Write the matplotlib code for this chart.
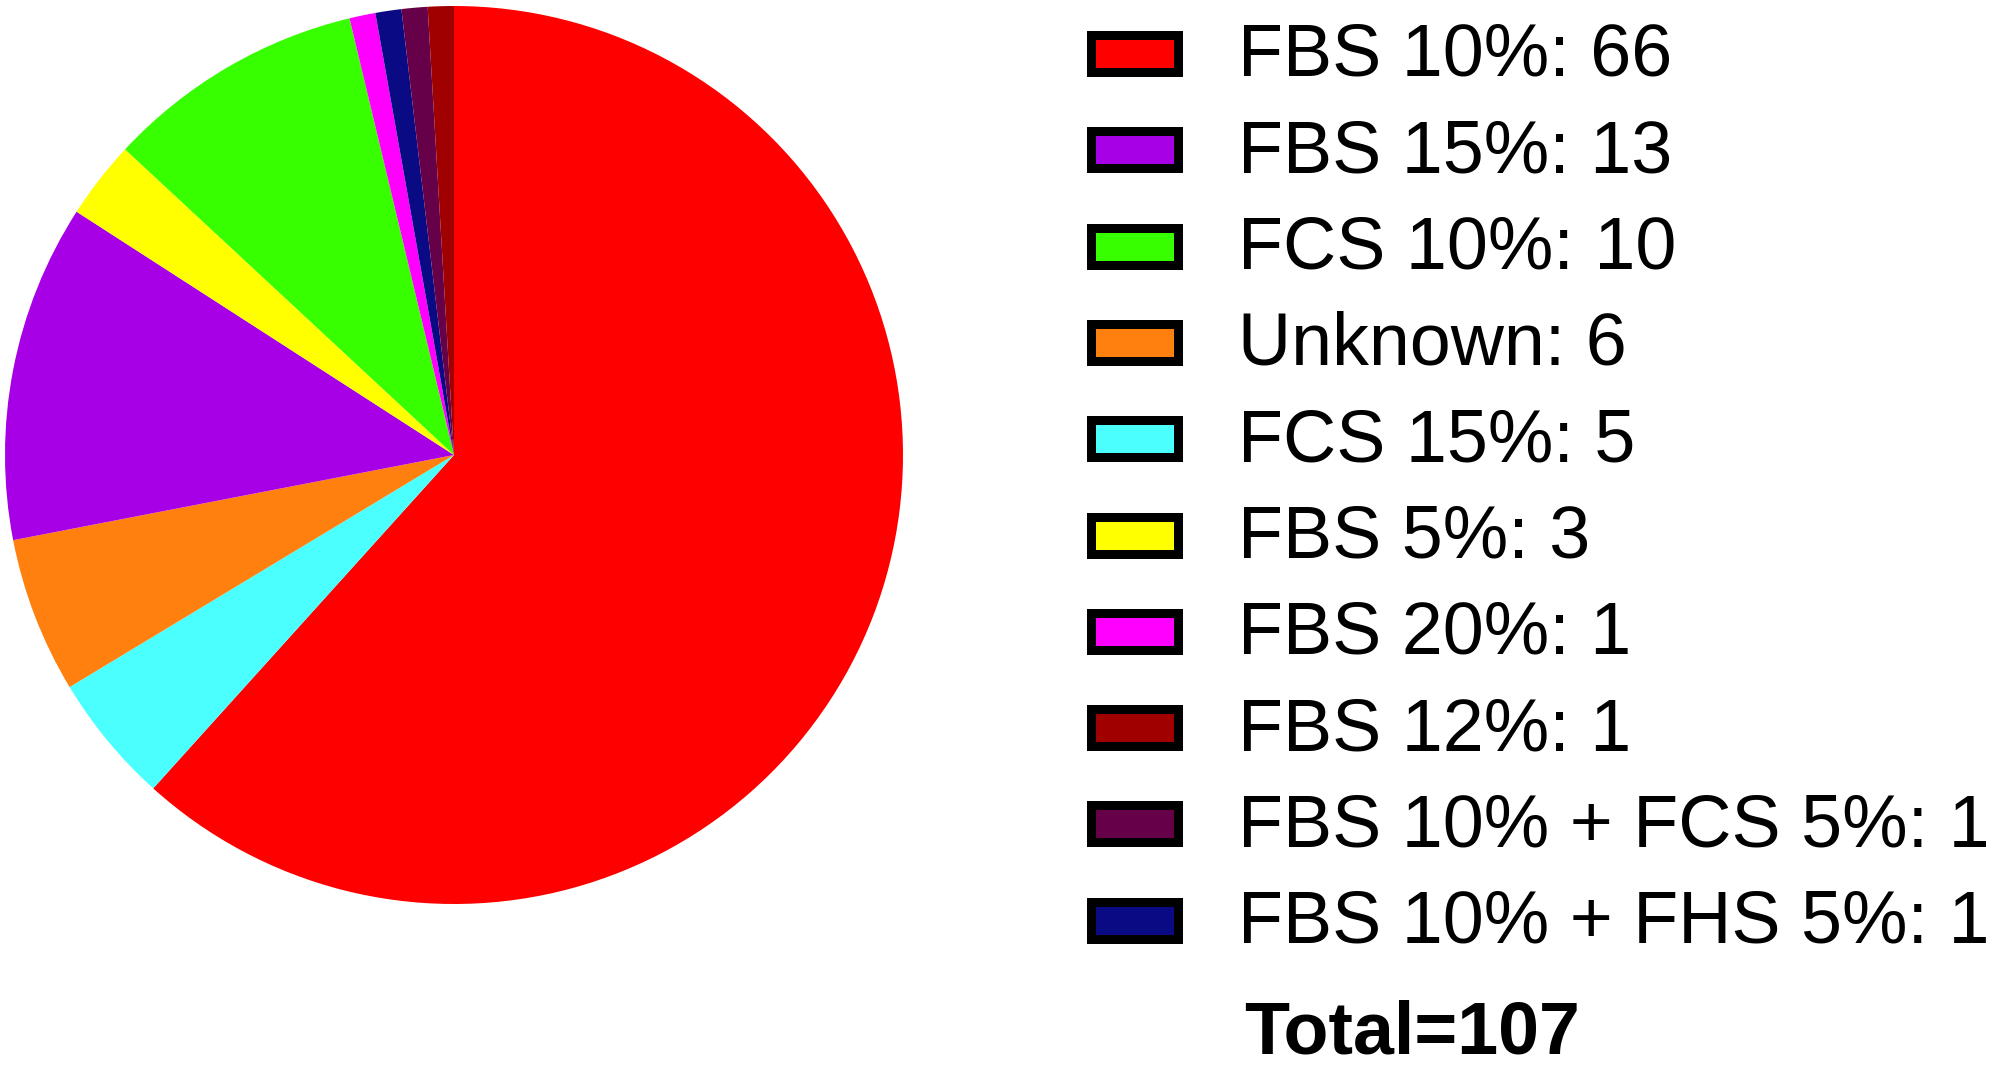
import matplotlib
matplotlib.use("Agg")
import matplotlib.pyplot as plt
from matplotlib.patches import Rectangle

plt.rcParams['font.family'] = ['Liberation Sans', 'DejaVu Sans']

# Pie data (clockwise order from 12 o'clock)
pie_labels = ["FBS 10%", "FCS 15%", "Unknown", "FBS 15%", "FBS 5%", "FCS 10%",
              "FBS 20%", "FBS 10% + FHS 5%", "FBS 10% + FCS 5%", "FBS 12%"]
pie_values = [66, 5, 6, 13, 3, 10, 1, 1, 1, 1]
colors = {
    "FBS 10%": "#FF0000",
    "FBS 15%": "#A800E6",
    "FCS 10%": "#38FF00",
    "Unknown": "#FF7F0F",
    "FCS 15%": "#4CFFFF",
    "FBS 5%": "#FFFF00",
    "FBS 20%": "#FF00FF",
    "FBS 12%": "#A00000",
    "FBS 10% + FCS 5%": "#660048",
    "FBS 10% + FHS 5%": "#0A0A85",
}
# Legend order
legend_labels = ["FBS 10%", "FBS 15%", "FCS 10%", "Unknown", "FCS 15%", "FBS 5%",
                 "FBS 20%", "FBS 12%", "FBS 10% + FCS 5%", "FBS 10% + FHS 5%"]
legend_values = [66, 13, 10, 6, 5, 3, 1, 1, 1, 1]
total_text = "Total=" + str(sum(pie_values))

W, H = 1995, 1071
fig = plt.figure(figsize=(W / 100, H / 100), dpi=100)

# Pie axes
cx, cy, r = 454, 455, 449
ax = fig.add_axes([(cx - r) / W, (H - cy - r) / H, 2 * r / W, 2 * r / H])
ax.pie(pie_values, colors=[colors[l] for l in pie_labels], startangle=90,
       counterclock=False, wedgeprops=dict(linewidth=0))
ax.set_xlim(-1, 1)
ax.set_ylim(-1, 1)
ax.set_aspect('equal')
ax.axis('off')

# Legend axes in pixel coordinates
lax = fig.add_axes([0, 0, 1, 1])
lax.set_xlim(0, W)
lax.set_ylim(H, 0)
lax.axis('off')

box_x0, box_x1 = 1086, 1182
box_h = 46
bw = 9
y0, dy = 53.5, 96.3
for i, (lab, val) in enumerate(zip(legend_labels, legend_values)):
    yc = y0 + i * dy
    rect = Rectangle((box_x0 + bw / 2, yc - box_h / 2 + bw / 2),
                     box_x1 - box_x0 - bw, box_h - bw,
                     facecolor=colors[lab], edgecolor='black',
                     linewidth=bw * 72 / 100, joinstyle='miter')
    lax.add_patch(rect)
    lax.text(1238, yc + 3, f"{lab}: {val}", fontsize=53, va='center', ha='left',
             color='black')

lax.text(1244, 1053, total_text, fontsize=53, fontweight='bold', va='baseline',
         ha='left', color='black')

fig.savefig("out.png", dpi=100, facecolor='white')
